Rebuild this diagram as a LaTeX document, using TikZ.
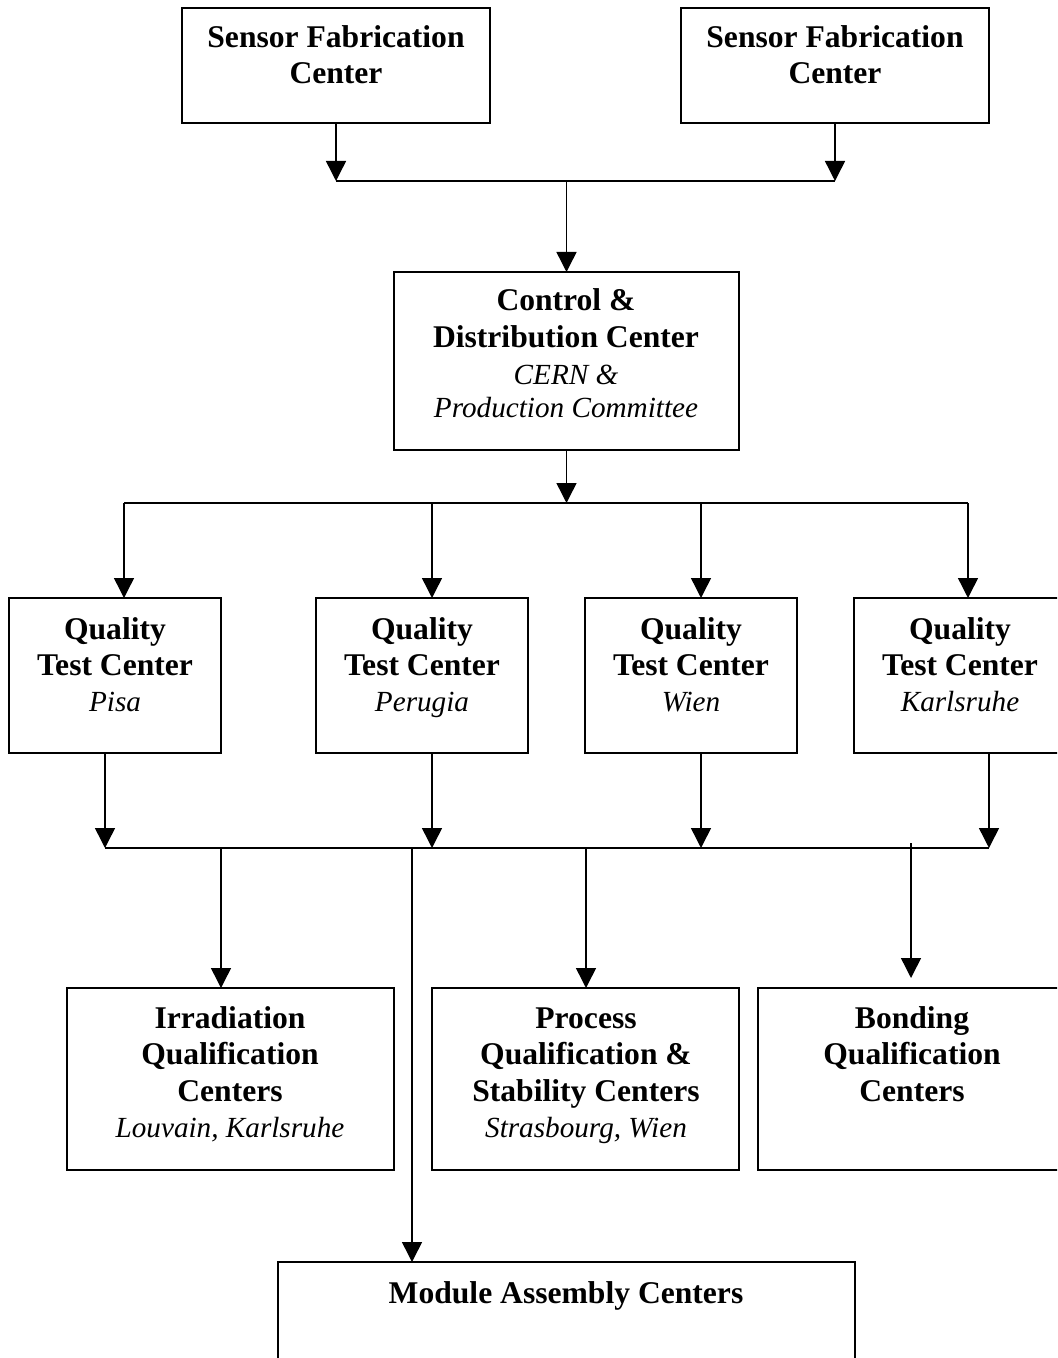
\documentclass[tikz,border=0pt]{standalone}
\usepackage{fontspec}
\setmainfont{Liberation Serif}
\usetikzlibrary{arrows.meta}
\begin{document}
\begin{tikzpicture}[x=0.75pt,y=-0.75pt,
  box/.style={draw,line width=1.1pt,inner sep=0pt,outer sep=0pt},
  ln/.style={line width=1.1pt},
  arr/.style={line width=1.1pt,-{Triangle[width=15pt,length=15pt]}},
  bt/.style={anchor=base,inner sep=0pt,font=\bfseries\fontsize{23.7}{27}\selectfont},
  it/.style={anchor=base,inner sep=0pt,font=\itshape\fontsize{21.9}{25}\selectfont}]
\useasboundingbox (0,0) rectangle (1057,1358);
\clip (0,0) rectangle (1057,1358);
\fill[white] (0,0) rectangle (1057,1358);
% boxes
\node[box,minimum width=231pt,minimum height=86.25pt] (sf1) at (336,65.5) {};
\node[box,minimum width=231pt,minimum height=86.25pt] (sf2) at (835,65.5) {};
\node[box,minimum width=258.75pt,minimum height=133.5pt] (cdc) at (566.5,361) {};
\node[box,minimum width=159pt,minimum height=116.25pt] (q1) at (115,675.5) {};
\node[box,minimum width=159pt,minimum height=116.25pt] (q2) at (422,675.5) {};
\node[box,minimum width=159pt,minimum height=116.25pt] (q3) at (691,675.5) {};
\node[box,minimum width=159pt,minimum height=116.25pt] (q4) at (960,675.5) {};
\node[box,minimum width=245.25pt,minimum height=136.5pt] (irr) at (230.5,1079) {};
\node[box,minimum width=230.25pt,minimum height=136.5pt] (proc) at (585.5,1079) {};
\node[box,minimum width=231pt,minimum height=136.5pt] (bond) at (912,1079) {};
\node[box,minimum width=432.75pt,minimum height=88.5pt] (mod) at (566.5,1321) {};
% texts
\node[bt] (sf1a) at (336,48) {Sensor Fabrication};
\node[bt] (sf1b) at (336,84) {Center};
\node[bt] (sf2a) at (835,48) {Sensor Fabrication};
\node[bt] (sf2b) at (835,84) {Center};
\node[bt] (cdca) at (566,311) {Control \&};
\node[bt] (cdcb) at (566,348) {Distribution Center};
\node[it] (cdcc) at (566,384) {CERN \&};
\node[it] (cdcd) at (566,417) {Production Committee};
\foreach \n/\x/\c in {q1/115/Pisa,q2/422/Perugia,q3/691/Wien,q4/960/Karlsruhe}{
  \node[bt] (\n a) at (\x,639) {Quality};
  \node[bt] (\n b) at (\x,675) {Test Center};
  \node[it] (\n c) at (\x,711) {\c};
}
\node[bt] (irra) at (230,1028) {Irradiation};
\node[bt] (irrb) at (230,1064) {Qualification};
\node[bt] (irrc) at (230,1101) {Centers};
\node[it] (irrd) at (230,1137) {Louvain, Karlsruhe};
\node[bt] (proca) at (586,1028) {Process};
\node[bt] (procb) at (586,1064) {Qualification \&};
\node[bt] (procc) at (586,1101) {Stability Centers};
\node[it] (procd) at (586,1137) {Strasbourg, Wien};
\node[bt] (bonda) at (912,1028) {Bonding};
\node[bt] (bondb) at (912,1064) {Qualification};
\node[bt] (bondc) at (912,1101) {Centers};
\node[bt] (moda) at (566,1303) {Module Assembly Centers};
% junctions
\coordinate (j1) at (336,181);
\coordinate (j2) at (835,181);
\coordinate (j3) at (566.5,181);
\coordinate (k0) at (566.5,503);
\coordinate (k1) at (124,503);
\coordinate (k2) at (432,503);
\coordinate (k3) at (701,503);
\coordinate (k4) at (968,503);
\coordinate (m1) at (105,848);
\coordinate (m2) at (432,848);
\coordinate (m3) at (701,848);
\coordinate (m4) at (989,848);
\coordinate (n1) at (221,848);
\coordinate (n2) at (412,848);
\coordinate (n3) at (586,848);
\coordinate (n4) at (911,843);
% connectors
\draw[arr] (sf1.south) -- (j1);
\draw[arr] (sf2.south) -- (j2);
\draw[ln] (j1) -- (j2);
\draw[arr] (j3) -- (cdc.north);
\draw[arr] (cdc.south) -- (k0);
\draw[ln] (k1) -- (k4);
\draw[arr] (k1) -- (k1 |- q1.north);
\draw[arr] (k2) -- (k2 |- q2.north);
\draw[arr] (k3) -- (k3 |- q3.north);
\draw[arr] (k4) -- (k4 |- q4.north);
\draw[arr] (m1 |- q1.south) -- (m1);
\draw[arr] (m2 |- q2.south) -- (m2);
\draw[arr] (m3 |- q3.south) -- (m3);
\draw[arr] (m4 |- q4.south) -- (m4);
\draw[ln] (m1) -- (m4);
\draw[arr] (n1) -- (n1 |- irr.north);
\draw[arr] (n2) -- (n2 |- mod.north);
\draw[arr] (n3) -- (n3 |- proc.north);
\draw[arr] (n4) -- ([yshift=7.5pt]n4 |- bond.north);
\end{tikzpicture}
\end{document}
